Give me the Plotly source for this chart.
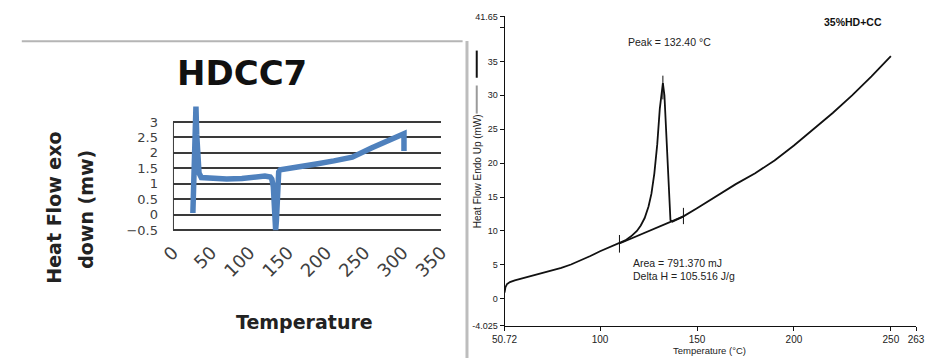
import plotly.graph_objects as go

W, H = 928, 364

# ---------------- Left chart data (HDCC7) ----------------
left_temp = [26, 27, 28, 29, 30, 31, 32, 34, 37, 50, 70, 90, 100, 110, 120, 127, 129, 131,
             132, 133, 134, 135, 136, 137, 138, 140, 150, 165, 187, 210, 234, 259, 285,
             299.6, 301.5, 301.5]
left_flow = [0.05, 0.8, 1.8, 3.0, 3.5, 2.6, 1.8, 1.35, 1.2, 1.17, 1.15, 1.17, 1.2, 1.22, 1.25,
             1.22, 1.15, 0.9, 0.3, -0.4, -0.5, -0.2, 0.6, 1.2, 1.38, 1.45, 1.5, 1.56, 1.64,
             1.74, 1.86, 2.16, 2.42, 2.58, 2.62, 2.06]
left_xticks = [0, 50, 100, 150, 200, 250, 300, 350]
left_yticks = [-0.5, 0, 0.5, 1, 1.5, 2, 2.5, 3]

# ---------------- Right chart data (35%HD+CC) ----------------
right_temp = [50.72, 51.2, 52, 53.5, 56, 60, 65, 70, 75, 80, 85, 90, 95, 100, 105, 110,
              113, 116, 119, 121, 123, 125, 126.5, 128, 129.5, 130.8, 131.8, 132.4, 133.2,
              134.0, 134.8, 135.6, 136.3, 137.3, 140, 143, 150, 158, 170, 180, 190, 200,
              210, 220, 230, 240, 250]
right_flow = [0.9, 1.7, 2.15, 2.45, 2.7, 3.0, 3.35, 3.7, 4.1, 4.55, 5.05, 5.65, 6.3, 7.0,
              7.6, 8.15, 8.6, 9.2, 10.0, 10.8, 11.9, 13.6, 15.5, 18.5, 22.8, 28.0, 31.0,
              31.8, 30.0, 25.5, 20.0, 15.0, 11.6, 11.35, 11.75, 12.15, 13.35, 14.8, 16.9,
              18.5, 20.4, 22.6, 25.0, 27.4, 30.0, 32.8, 35.8]
base_temp = [110, 143]
base_flow = [8.15, 12.15]
mark1_temp, mark1_flow = [110, 110], [6.8, 9.4]
mark2_temp, mark2_flow = [143, 143], [11.0, 13.4]
peak_temp, peak_flow = [132.4, 132.4], [29.4, 32.9]
right_xticks = [50.72, 100, 150, 200, 250, 263]
right_xtext = ["50.72", "100", "150", "200", "250", "263"]
right_yticks = [-4.025, 0, 5, 10, 15, 20, 25, 30, 35, 40, 41.65]
right_ytext = ["-4.025", "0", "5", "10", "15", "20", "25", "30", "35", "", "41.65"]


def px(x):
    return x / W


def py(y):
    return (H - y) / H


RF = "Liberation Sans, Arial, sans-serif"
LEFTF = "DejaVu Sans, Verdana, sans-serif"

fig = go.Figure()

fig.add_trace(go.Scatter(x=left_temp, y=left_flow, mode="lines", xaxis="x", yaxis="y",
                         line=dict(color="#4F81BD", width=5.5), showlegend=False))

blk = dict(color="#111111", width=1.8)
fig.add_trace(go.Scatter(x=right_temp, y=right_flow, mode="lines", xaxis="x2", yaxis="y2",
                         line=blk, showlegend=False))
fig.add_trace(go.Scatter(x=base_temp, y=base_flow, mode="lines", xaxis="x2", yaxis="y2",
                         line=blk, showlegend=False))
for mx, my in [(mark1_temp, mark1_flow), (mark2_temp, mark2_flow), (peak_temp, peak_flow)]:
    fig.add_trace(go.Scatter(x=mx, y=my, mode="lines", xaxis="x2", yaxis="y2",
                             line=dict(color="#111111", width=1), showlegend=False))

fig.update_layout(
    width=W, height=H, margin=dict(l=0, r=0, t=0, b=0),
    paper_bgcolor="white", plot_bgcolor="rgba(0,0,0,0)",
    xaxis=dict(domain=[px(163), px(438)], range=[0, 350], tickvals=left_xticks,
               tickangle=-45, showgrid=False, zeroline=False, showline=False, ticks="",
               ticklabelstandoff=6,
               tickfont=dict(family=LEFTF, size=18, color="#404040"), anchor="y"),
    yaxis=dict(domain=[py(233.6), py(101.6)], range=[-0.55, 3.6], tickvals=left_yticks,
               showgrid=True, gridcolor="#3a3a3a", gridwidth=2, zeroline=False,
               showline=False, ticks="", ticklabelstandoff=14,
               tickfont=dict(family=LEFTF, size=13, color="#404040"), anchor="x"),
    xaxis2=dict(domain=[px(503), px(925)], range=[50.72, 263], tickvals=right_xticks,
                ticktext=right_xtext, showgrid=False, zeroline=False, showline=True,
                linecolor="#111111", linewidth=1, ticks="outside", ticklen=4,
                tickcolor="#111111", tickfont=dict(family=RF, size=10, color="#222222"),
                anchor="y2"),
    yaxis2=dict(domain=[py(331), py(11.7)], range=[-4.025, 41.65], tickvals=right_yticks,
                ticktext=right_ytext, showgrid=False, zeroline=False, showline=True,
                linecolor="#111111", linewidth=1, ticks="outside", ticklen=4,
                tickcolor="#111111", tickfont=dict(family=RF, size=9, color="#222222"),
                anchor="x2"),
)

fig.add_shape(type="line", xref="x", yref="y", x0=0, x1=0, y0=-0.5, y1=3,
              line=dict(color="#3a3a3a", width=2))
# frame lines of the left image and separator
fig.add_shape(type="line", xref="paper", yref="paper", x0=px(8), x1=px(460), y0=py(37.5),
              y1=py(37.5), line=dict(color="#b5b5b5", width=2))
fig.add_shape(type="line", xref="paper", yref="paper", x0=px(464.5), x1=px(464.5),
              y0=py(37), y1=0, line=dict(color="#bdbdbd", width=3))
# legend strokes next to right y title
fig.add_shape(type="line", xref="paper", yref="paper", x0=px(474.5), x1=px(474.5),
              y0=py(47), y1=py(75), line=dict(color="#111111", width=2))
fig.add_shape(type="line", xref="paper", yref="paper", x0=px(474.5), x1=px(474.5),
              y0=py(83), y1=py(112), line=dict(color="#9a9a9a", width=2))

ann = [
    dict(text="HDCC7", x=px(233.5), y=py(70), font=dict(family=LEFTF, size=34, color="#111111", weight="bold")),
    dict(text="Heat Flow exo", x=px(41.5), y=py(208.5), textangle=-90,
         font=dict(family=LEFTF, size=19, color="#222222", weight="bold")),
    dict(text="down (mw)", x=px(73), y=py(211), textangle=-90,
         font=dict(family=LEFTF, size=19, color="#222222", weight="bold")),
    dict(text="Temperature", x=px(298), y=py(327),
         font=dict(family=LEFTF, size=19, color="#222222", weight="bold")),
    dict(text="35%HD+CC", x=px(860), y=py(17.7),
         font=dict(family=RF, size=10.5, color="#111111", weight="bold")),
    dict(text="Peak = 132.40 °C", x=px(672.5), y=py(38.5),
         font=dict(family=RF, size=10.5, color="#222222")),
    dict(text="Area = 791.370 mJ", x=px(633), y=py(265.7), xanchor="left",
         font=dict(family=RF, size=10.5, color="#222222")),
    dict(text="Delta H = 105.516 J/g", x=px(633), y=py(279.3), xanchor="left",
         font=dict(family=RF, size=10.5, color="#222222")),
    dict(text="Temperature (°C)", x=px(713), y=py(356),
         font=dict(family=RF, size=9.5, color="#222222")),
    dict(text="Heat Flow Endo Up (mW)", x=px(474.7), y=py(171.5), textangle=-90,
         font=dict(family=RF, size=10, color="#222222")),
]
for a in ann:
    a.setdefault("xanchor", "center")
    a.setdefault("yanchor", "middle")
    fig.add_annotation(xref="paper", yref="paper", showarrow=False, **a)

fig.write_html("out.html",
               post_script="document.body.style.margin='0';document.body.style.overflow='hidden';")
